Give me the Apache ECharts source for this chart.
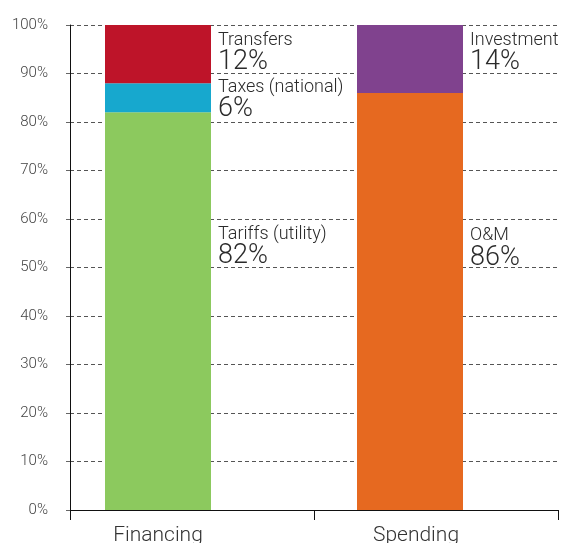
<!DOCTYPE html>
<html>
<head>
<meta charset="utf-8">
<script src="https://cdn.jsdelivr.net/npm/echarts@6/dist/echarts.min.js"></script>
<style>
html,body{margin:0;padding:0;background:#fff;}
#chart{width:562px;height:543px;}
</style>
</head>
<body>
<div id="chart"></div>
<script>
const categories = ['Financing', 'Spending'];
const financingNames = ['Tariffs (utility)', 'Taxes (national)', 'Transfers'];
const financingValues = [82, 6, 12];
const spendingNames = ['O&M', 'Investment'];
const spendingValues = [86, 14];
const yMax = 100;
const yStep = 10;

const colors = {
  'Tariffs (utility)': '#8CC95E',
  'Taxes (national)': '#17A8CE',
  'Transfers': '#BE1429',
  'O&M': '#E66920',
  'Investment': '#80428E'
};
// label vertical offset inside each segment (px from segment top)
const labelOffsets = {
  'Tariffs (utility)': 112,
  'Taxes (national)': -6,
  'Transfers': 5,
  'O&M': 133,
  'Investment': 5
};

const FONT = 'Roboto';
const textColor = '#2b2b2b';

function makeSeries(name, value, catIndex) {
  const data = categories.map((c, i) => i === catIndex ? {
    value: value,
    label: {
      show: true,
      position: [113, labelOffsets[name]],
      formatter: () => '{n|' + name + '}\n{v|' + value + '%}',
      rich: {
        n: { fontFamily: FONT, fontWeight: 300, fontSize: 18, lineHeight: 20, color: textColor },
        v: { fontFamily: FONT, fontWeight: 300, fontSize: 27, lineHeight: 24, color: textColor }
      }
    }
  } : '-');
  return {
    name: name,
    type: 'bar',
    stack: 'total',
    xAxisIndex: 0,
    yAxisIndex: 0,
    barWidth: 106,
    itemStyle: { color: colors[name] },
    data: data
  };
}

const series = [];
financingNames.forEach((n, i) => series.push(makeSeries(n, financingValues[i], 0)));
spendingNames.forEach((n, i) => series.push(makeSeries(n, spendingValues[i], 1)));

const catLabelStyle = { fontFamily: FONT, fontWeight: 300, fontSize: 21, color: '#333' };

const chart = echarts.init(document.getElementById('chart'), null, { renderer: 'canvas' });
chart.setOption({
  animation: false,
  backgroundColor: '#fff',
  grid: [
    { left: 32, right: 26, top: 25, bottom: 33, containLabel: false, outerBoundsMode: 'none' },
    { left: 70, right: 4, top: 25, bottom: 33, containLabel: false, outerBoundsMode: 'none' }
  ],
  xAxis: [
    {
      type: 'category', gridIndex: 0, data: categories,
      axisLine: { show: false }, axisTick: { show: false },
      axisLabel: {
        margin: 15,
        formatter: (v, i) => i === 0 ? '{a|' + v + '}' : '{b|' + v + '}',
        rich: {
          a: Object.assign({}, catLabelStyle),
          b: Object.assign({ padding: [0, 0, 0, 12] }, catLabelStyle)
        }
      }
    },
    {
      type: 'category', gridIndex: 1, data: ['', ''], boundaryGap: true,
      axisLine: { show: true, lineStyle: { color: '#111', width: 1 } },
      axisTick: { show: true, length: 10, lineStyle: { color: '#111' } },
      axisLabel: { show: false }
    }
  ],
  yAxis: [
    { type: 'value', gridIndex: 0, min: 0, max: yMax, show: false, splitLine: { show: false } },
    {
      type: 'value', gridIndex: 1, min: 0, max: yMax, interval: yStep,
      axisLine: { show: true, lineStyle: { color: '#111', width: 1 } },
      axisTick: { show: true, length: 7, lineStyle: { color: '#666', type: [4, 3] } },
      axisLabel: { formatter: '{value}%', fontFamily: FONT, fontWeight: 300, fontSize: 15, color: '#444', margin: 22 },
      splitLine: { show: true, lineStyle: { color: '#555', type: [4, 3], width: 1 } }
    }
  ],
  series: series
});
</script>
</body>
</html>
